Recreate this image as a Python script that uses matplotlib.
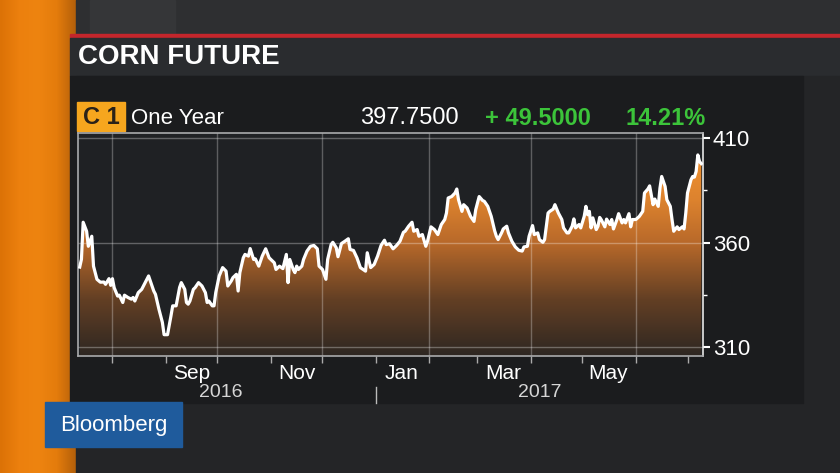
import numpy as np
import matplotlib
matplotlib.use("Agg")
import matplotlib.pyplot as plt
import matplotlib.dates as mdates
from matplotlib.colors import LinearSegmentedColormap
from matplotlib.patches import Rectangle
import pandas as pd

plt.rcParams['font.family'] = ['Liberation Sans', 'DejaVu Sans']

# C1 corn future, one year of closes
dates = [
    "2016-07-13", "2016-07-14", "2016-07-15", "2016-07-17", "2016-07-18", "2016-07-20", "2016-07-21",
    "2016-07-23", "2016-07-25", "2016-07-27", "2016-07-28", "2016-07-30", "2016-07-31",
    "2016-08-01", "2016-08-02", "2016-08-04", "2016-08-05", "2016-08-07", "2016-08-08", "2016-08-10",
    "2016-08-12", "2016-08-13", "2016-08-14", "2016-08-16", "2016-08-18", "2016-08-20", "2016-08-22",
    "2016-08-23", "2016-08-25", "2016-08-26", "2016-08-28", "2016-08-30", "2016-08-31",
    "2016-09-02", "2016-09-04", "2016-09-05", "2016-09-07", "2016-09-09", "2016-09-10", "2016-09-12",
    "2016-09-13", "2016-09-14", "2016-09-15", "2016-09-17", "2016-09-18", "2016-09-20", "2016-09-22",
    "2016-09-24", "2016-09-25", "2016-09-26", "2016-09-28", "2016-09-29", "2016-09-30",
    "2016-10-02", "2016-10-04", "2016-10-06", "2016-10-07", "2016-10-09", "2016-10-10", "2016-10-12",
    "2016-10-13", "2016-10-14", "2016-10-16", "2016-10-17", "2016-10-19", "2016-10-20", "2016-10-22",
    "2016-10-23", "2016-10-25", "2016-10-27", "2016-10-29", "2016-10-31",
    "2016-11-03", "2016-11-04", "2016-11-06", "2016-11-08", "2016-11-10", "2016-11-11", "2016-11-12",
    "2016-11-14", "2016-11-15", "2016-11-16", "2016-11-17", "2016-11-19", "2016-11-20", "2016-11-22",
    "2016-11-24", "2016-11-26", "2016-11-28", "2016-11-29",
    "2016-12-01", "2016-12-03", "2016-12-04", "2016-12-06", "2016-12-07", "2016-12-09", "2016-12-10",
    "2016-12-12", "2016-12-14", "2016-12-16", "2016-12-17", "2016-12-19", "2016-12-21", "2016-12-23",
    "2016-12-26", "2016-12-27", "2016-12-29", "2016-12-31",
    "2017-01-02", "2017-01-04", "2017-01-06", "2017-01-07", "2017-01-09", "2017-01-11", "2017-01-13",
    "2017-01-15", "2017-01-17", "2017-01-18", "2017-01-20", "2017-01-22", "2017-01-23", "2017-01-25",
    "2017-01-26", "2017-01-28", "2017-01-30", "2017-01-31",
    "2017-02-02", "2017-02-04", "2017-02-06", "2017-02-08", "2017-02-10", "2017-02-11", "2017-02-12",
    "2017-02-14", "2017-02-16", "2017-02-17", "2017-02-18", "2017-02-20", "2017-02-21", "2017-02-23",
    "2017-02-25", "2017-02-27", "2017-02-28",
    "2017-03-02", "2017-03-04", "2017-03-05", "2017-03-07", "2017-03-09", "2017-03-11", "2017-03-12",
    "2017-03-13", "2017-03-15", "2017-03-16", "2017-03-18", "2017-03-19", "2017-03-21", "2017-03-23",
    "2017-03-25", "2017-03-27", "2017-03-28", "2017-03-30", "2017-03-31",
    "2017-04-02", "2017-04-03", "2017-04-05", "2017-04-06", "2017-04-08", "2017-04-09", "2017-04-11",
    "2017-04-12", "2017-04-14", "2017-04-15", "2017-04-17", "2017-04-19", "2017-04-20", "2017-04-22",
    "2017-04-23", "2017-04-25", "2017-04-26", "2017-04-27", "2017-04-29", "2017-04-30",
    "2017-05-02", "2017-05-03", "2017-05-04", "2017-05-05", "2017-05-06", "2017-05-07", "2017-05-09",
    "2017-05-10", "2017-05-11", "2017-05-12", "2017-05-14", "2017-05-15", "2017-05-17", "2017-05-18",
    "2017-05-19", "2017-05-21", "2017-05-22", "2017-05-24", "2017-05-25", "2017-05-26", "2017-05-28",
    "2017-05-29", "2017-05-30",
    "2017-06-01", "2017-06-03", "2017-06-05", "2017-06-06", "2017-06-08", "2017-06-09", "2017-06-11",
    "2017-06-12", "2017-06-14", "2017-06-15", "2017-06-16", "2017-06-18", "2017-06-19", "2017-06-21",
    "2017-06-22", "2017-06-23", "2017-06-25", "2017-06-26", "2017-06-28", "2017-06-29", "2017-06-30",
    "2017-07-01", "2017-07-03", "2017-07-04", "2017-07-05", "2017-07-06", "2017-07-07", "2017-07-08",
    "2017-07-09",
]
prices = [
    348.25, 352.0, 369.7, 365.4, 358.2, 363.0, 348.7,
    342.4, 341.0, 341.1, 340.0, 342.7, 339.5,
    342.7, 338.4, 334.4, 334.8, 331.3, 334.8, 333.7,
    332.9, 333.7, 332.0, 336.0, 337.6, 340.8, 344.0,
    341.6, 336.8, 335.2, 328.1, 321.8, 315.9,
    315.9, 324.9, 329.7, 329.7, 338.5, 340.8, 337.6,
    331.3, 330.5, 332.0, 337.6, 338.4, 340.8, 339.2,
    336.0, 331.3, 332.0, 329.7, 329.7, 336.0,
    344.0, 348.0, 346.3, 339.2, 341.6, 343.2, 344.8,
    336.8, 345.6, 352.7, 354.3, 353.5, 357.1, 351.9,
    352.2, 348.7, 353.5, 357.0, 352.7,
    350.3, 347.1, 348.7, 347.5, 354.3, 340.8, 351.9,
    347.1, 345.6, 348.7, 347.1, 348.7, 351.9, 355.9,
    358.2, 358.6, 357.0, 348.7,
    347.1, 342.4, 351.9, 359.0, 360.1, 357.5, 353.2,
    359.5, 360.6, 361.8, 356.7, 356.2, 352.7, 348.0,
    346.3, 355.1, 348.0, 349.5,
    353.5, 358.6, 361.1, 359.0, 359.4, 357.0, 358.6,
    360.6, 364.9, 365.4, 367.8, 369.7, 365.4, 366.2,
    363.0, 363.8, 358.2, 360.6,
    367.5, 366.2, 363.8, 368.6, 371.0, 374.1, 381.3,
    382.0, 383.7, 385.6, 380.5, 374.9, 378.1, 376.5,
    372.5, 370.1, 375.7,
    382.0, 380.1, 379.7, 377.3, 372.5, 365.6, 363.0,
    361.4, 364.6, 366.5, 367.8, 364.6, 360.6, 357.9,
    356.3, 355.9, 357.9, 358.2, 363.0,
    368.1, 363.8, 364.6, 361.4, 360.1, 361.4, 374.1,
    374.9, 376.0, 378.1, 374.1, 371.0, 367.0, 364.6,
    364.6, 367.8, 371.3, 367.0, 368.6, 367.0,
    372.5, 377.3, 373.3, 374.9, 367.0, 371.8, 366.2,
    367.8, 372.0, 370.8, 367.5, 371.2, 368.6, 371.0,
    366.5, 371.0, 373.8, 369.4, 371.0, 369.4, 373.8,
    367.5, 371.0,
    371.0, 372.5, 374.9, 383.7, 385.6, 387.1, 378.1,
    380.8, 377.3, 386.0, 391.6, 386.8, 380.5, 377.3,
    371.0, 365.4, 367.5, 366.2, 367.5, 366.5, 374.1,
    383.7, 390.0, 391.6, 391.3, 394.0, 401.9, 398.7,
    397.75,
]

month_labels = ["Sep", "Nov", "Jan", "Mar", "May"]
month_label_dates = ["2016-09-16", "2016-11-16", "2017-01-16", "2017-03-16", "2017-05-16"]
year_labels = ["2016", "2017"]
year_label_dates = ["2016-10-03", "2017-04-06"]
y_ticks = [310, 360, 410]
header_last = "397.7500"
header_change = "+ 49.5000"
header_pct = "14.21%"

x = mdates.date2num(pd.to_datetime(dates))
y = np.array(prices)

fig = plt.figure(figsize=(8.4, 4.73), dpi=100)
fig.patch.set_facecolor('#26272a')

# background scene in pixel coordinates
bg = fig.add_axes([0, 0, 1, 1])
bg.set_xlim(0, 840)
bg.set_ylim(473, 0)
bg.axis('off')

orange = LinearSegmentedColormap.from_list('strip', ['#dc7206', '#ec800e', '#ee8410', '#e47c0c', '#b4600a'])
bg.imshow(np.linspace(0, 1, 100).reshape(1, -1), cmap=orange, extent=(0, 76, 473, 0), aspect='auto')
bg.add_patch(Rectangle((76, 0), 764, 35, color='#2e2f31'))
bg.add_patch(Rectangle((90, 0), 85, 35, color='#353638'))
bg.add_patch(Rectangle((70, 34.5), 770, 4, color='#c4262c'))
bg.add_patch(Rectangle((70, 38.5), 770, 38, color='#2a2c2f'))
bg.add_patch(Rectangle((76, 76.5), 764, 397, color='#242527'))
bg.add_patch(Rectangle((70, 76.5), 733, 326, color='#1b1c1e'))
lower = LinearSegmentedColormap.from_list('lower', ['#1b1c1e', '#2b2b2c'])
bg.imshow(np.linspace(0, 1, 50).reshape(-1, 1), cmap=lower, extent=(76, 803, 473, 402), aspect='auto')

bg.text(78, 57, "CORN FUTURE", color='white', fontsize=20, fontweight='bold', va='center', ha='left')

bg.add_patch(Rectangle((77, 102), 48, 29, color='#f6a61e'))
bg.text(101, 117.5, "C 1", color='#2a2218', fontsize=17, fontweight='bold', va='center', ha='center')
bg.text(131, 118, "One Year", color='white', fontsize=16, va='center', ha='left')
bg.text(459, 118, header_last, color='white', fontsize=17, va='center', ha='right')
bg.text(591, 118, header_change, color='#3cc43a', fontsize=17, fontweight='bold', va='center', ha='right')
bg.text(706, 118, header_pct, color='#3cc43a', fontsize=17, fontweight='bold', va='center', ha='right')

bg.add_patch(Rectangle((45, 402), 137, 45, color='#1f5b9c'))
bg.text(113.5, 425, "Bloomberg", color='white', fontsize=16, va='center', ha='center')

# chart
ax = fig.add_axes([78 / 840, 1 - 356 / 473, 625 / 840, 223 / 473])
ax.set_facecolor('#1f2124')
ax.set_xlim(mdates.datestr2num("2016-07-12"), mdates.datestr2num("2017-07-10"))
ax.set_ylim(305.7, 412.4)

fill_cmap = LinearSegmentedColormap.from_list(
    'fill', [(0, '#2e2722'), (0.28, '#633f24'), (0.56, '#b8692a'), (0.77, '#dc822e'), (1, '#f2922f')])
poly = ax.fill_between(x, y, 305.7, facecolor='none', edgecolor='none')
grad = ax.imshow(np.linspace(0, 1, 256).reshape(-1, 1), cmap=fill_cmap, origin='lower',
                 extent=(x[0], x[-1], 305.7, 402), aspect='auto', zorder=1)
grad.set_clip_path(poly.get_paths()[0], transform=ax.transData)

grid_months = ["2016-08-01", "2016-10-01", "2016-12-01", "2017-02-01", "2017-04-01", "2017-06-01"]
for g in grid_months:
    ax.axvline(mdates.datestr2num(g), color='white', alpha=0.28, lw=1, zorder=2)
for t in y_ticks:
    ax.axhline(t, color='white', alpha=0.3, lw=1, zorder=2)

ax.plot(x, y, color='white', lw=2.3, zorder=3, solid_joinstyle='round')

for s in ax.spines.values():
    s.set_color('#a9aaac')
    s.set_linewidth(1.2)
ax.spines['right'].set_color('#e6e6e6')

ax.yaxis.tick_right()
ax.set_yticks(y_ticks)
ax.set_yticks([335, 385], minor=True)
ax.tick_params(axis='y', which='major', colors='white', labelsize=16, length=5, width=1.5, pad=2)
ax.tick_params(axis='y', which='minor', colors='white', length=3, width=1)

month_starts = pd.date_range("2016-08-01", "2017-07-01", freq='MS')
ax.set_xticks(mdates.date2num(month_starts))
ax.set_xticklabels([])
ax.set_xticks(mdates.date2num(pd.to_datetime(month_label_dates)), month_labels, minor=True)
ax.tick_params(axis='x', which='major', colors='#aaaaaa', length=5, width=1)
ax.tick_params(axis='x', which='minor', length=0, labelsize=15, labelcolor='white', pad=6)

xt = ax.get_xaxis_transform()
for lab, d in zip(year_labels, year_label_dates):
    ax.text(mdates.datestr2num(d), -0.165, lab, transform=xt, color='#d6d6d6', fontsize=14,
            ha='center', va='center')
jan = mdates.datestr2num("2017-01-01")
ax.plot([jan, jan], [-0.139, -0.211], transform=xt, color='#bbbbbb', lw=1, clip_on=False)

fig.savefig("out.png", dpi=100, facecolor=fig.get_facecolor())
